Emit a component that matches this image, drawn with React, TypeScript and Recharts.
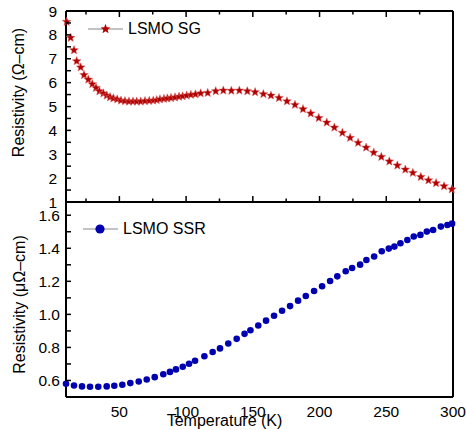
import React from "react";
import { ScatterChart, Scatter, XAxis, YAxis, Legend } from "recharts";

const FONT = "'Liberation Sans', Arial, sans-serif";
const SG_COLOR = "#B00000";
const SSR_COLOR = "#0000B0";
const AXIS = { stroke: "#000", strokeWidth: 2 };

// LSMO SG (top panel), resistivity in Ohm-cm
const sgTemp = [
  10.5, 13.5, 16, 18, 21, 23.5, 26.7, 29.7, 32.5, 35, 38, 40.5, 43, 45.5, 48.4, 51.2, 54.2, 57.2,
  60.2, 63, 66, 69.2, 72.4, 75.4, 78, 80.4, 83.4, 86, 88.7, 91.7, 94.7, 97.4, 100.4, 103.6, 107,
  110.9, 116.2, 122.2, 127.9, 133.9, 139.9, 145.9, 151.7, 157.9, 163.6, 169.6, 175.6, 181.6, 187.6,
  193.4, 199.4, 205.4, 211.1, 217.1, 222.9, 228.9, 234.9, 240.6, 246.3, 252.3, 258.3, 264.3, 269.9,
  275.9, 281.6, 287.3, 293.3, 299.1,
];
const sgRes = [
  8.55, 7.88, 7.36, 6.9, 6.64, 6.32, 6.13, 5.94, 5.78, 5.64, 5.55, 5.46, 5.39, 5.34, 5.3, 5.25, 5.23, 5.21,
  5.21, 5.21, 5.21, 5.23, 5.24, 5.25, 5.27, 5.3, 5.32, 5.34, 5.36, 5.38, 5.41, 5.43, 5.46, 5.49, 5.51,
  5.55, 5.57, 5.64, 5.67, 5.66, 5.67, 5.64, 5.6, 5.52, 5.46, 5.36, 5.22, 5.07, 4.89,
  4.71, 4.52, 4.33, 4.12, 3.9, 3.69, 3.48, 3.28, 3.07, 2.89, 2.7, 2.53, 2.36, 2.22,
  2.05, 1.91, 1.79, 1.66, 1.53,
];

// LSMO SSR (bottom panel), resistivity in micro-Ohm-cm
const ssrTemp = [
  10, 16, 22, 28, 34.2, 40.5, 46.2, 52.2, 58.2, 64.5, 70.5, 76.5, 82.9, 87.9, 92.4, 97.5, 102.2, 106.7,
  113.7, 119.9, 125.4, 131.6, 137.9, 143.8, 148.2, 154.1, 159.9, 165.9, 171.9, 177.9, 183.9, 189.7,
  195.9, 201.9, 207.9, 213.3, 219.6, 224.4, 230.4, 235.1, 240.9, 246.6, 251.9, 256.1, 260.6, 265.8,
  270.6, 275.6, 280.4, 285.1, 290.9, 295.8, 299.3,
];
const ssrRes = [
  0.58, 0.57, 0.564, 0.562, 0.562, 0.564, 0.568, 0.574, 0.584, 0.594, 0.606, 0.62, 0.638, 0.652, 0.667,
  0.683, 0.701, 0.719, 0.747, 0.772, 0.794, 0.824, 0.852, 0.882, 0.904, 0.933, 0.962, 0.992, 1.022,
  1.05, 1.083, 1.111, 1.141, 1.17, 1.202, 1.23, 1.261, 1.281, 1.301, 1.329, 1.35, 1.382, 1.398, 1.41,
  1.43, 1.45, 1.471, 1.481, 1.501, 1.511, 1.531, 1.541, 1.549,
];

const tempMajor = [50, 100, 150, 200, 250, 300];
const tempAll = [25, 50, 75, 100, 125, 150, 175, 200, 225, 250, 275, 300];
const sgMajor = [1, 2, 3, 4, 5, 6, 7, 8, 9];
const sgAll = [1, 1.5, 2, 2.5, 3, 3.5, 4, 4.5, 5, 5.5, 6, 6.5, 7, 7.5, 8, 8.5, 9];
const ssrMajor = [0.6, 0.8, 1.0, 1.2, 1.4, 1.6];
const ssrAll = [0.6, 0.7, 0.8, 0.9, 1.0, 1.1, 1.2, 1.3, 1.4, 1.5, 1.6];

const sgData = sgTemp.map((t, i) => ({ t, r: sgRes[i] }));
const ssrData = ssrTemp.map((t, i) => ({ t, r: ssrRes[i] }));

const T_DOMAIN: [number, number] = [10, 300];
const SG_DOMAIN: [number, number] = [1, 9];
const SSR_DOMAIN: [number, number] = [0.5, 1.68];

const starPoints = (cx: number, cy: number, ro: number, ri: number) => {
  const pts: string[] = [];
  for (let k = 0; k < 10; k++) {
    const a = -Math.PI / 2 + (k * Math.PI) / 5;
    const r = k % 2 === 0 ? ro : ri;
    pts.push(`${cx + r * Math.cos(a)},${cy + r * Math.sin(a)}`);
  }
  return pts.join(" ");
};

const Star = (p: any) => (
  <polygon points={starPoints(p.cx, p.cy, 4.6, 2)} fill={SG_COLOR} stroke="#E07070" strokeWidth={0.5} />
);
const Dot = (p: any) => <circle cx={p.cx} cy={p.cy} r={3.3} fill={SSR_COLOR} />;
const NoMark = () => <g />;

const isIn = (list: number[], v: number) => list.some((m) => Math.abs(m - v) < 1e-6);

// left axis: label on majors, inward tick mark on every tick
const leftTick = (majors: number[], margin: number, fmt: (v: number) => string) => (props: any) => {
  const { x, y, payload } = props;
  const v = payload.value;
  const major = isIn(majors, v);
  return (
    <g>
      <line x1={x + margin} x2={x + margin + 5} y1={y} y2={y} stroke="#000" strokeWidth={1.5} />
      {major && (
        <text x={x} y={y} dy="0.355em" textAnchor="end" fontSize={15.5} fontFamily={FONT} fill="#000">
          {fmt(v)}
        </text>
      )}
    </g>
  );
};

// horizontal frame edge: inward tick marks only (dir 1 = down, -1 = up)
const edgeTick = (dir: number) => (props: any) => {
  const { x, y, payload } = props;
  const len = isIn(tempMajor, payload.value) ? 6 : 3.5;
  return <line x1={x} x2={x} y1={y} y2={y + dir * len} stroke="#000" strokeWidth={1.5} />;
};

const yTitle = (text: string, dx: number, dy: number) => ({
  content: (props: any) => {
    const vb = props.viewBox || { x: 0, y: 0, width: 0, height: 0 };
    const x = vb.x + dx;
    const y = vb.y + vb.height / 2 + dy;
    return (
      <text
        x={x}
        y={y}
        transform={`rotate(-90 ${x} ${y})`}
        textAnchor="middle"
        fontSize={16}
        fontFamily={FONT}
        fill="#000"
      >
        {text}
      </text>
    );
  },
});

const legendContent = (marker: React.ReactNode) => (props: any) => {
  const item = props.payload && props.payload[0];
  return (
    <div style={{ display: "flex", alignItems: "center", fontFamily: FONT, fontSize: 16, color: "#000", whiteSpace: "nowrap" }}>
      <svg width={35} height={14}>
        <line x1={0} y1={7} x2={35} y2={7} stroke="#888" strokeWidth={1.2} />
        {marker}
      </svg>
      <span style={{ marginLeft: 5 }}>{item ? item.value : ""}</span>
    </div>
  );
};

const tickStyle = { fill: "#000", fontSize: 15.5, fontFamily: FONT };

export default function App() {
  return (
    <div style={{ position: "absolute", left: 0, top: 0, width: 466, height: 430, background: "#fff" }}>
      <div style={{ position: "absolute", left: 0, top: 0 }}>
        <ScatterChart width={466} height={210} margin={{ top: 6, right: 13, bottom: 3, left: 0 }}>
          <XAxis
            xAxisId="xb"
            type="number"
            dataKey="t"
            domain={T_DOMAIN}
            ticks={tempAll}
            interval={0}
            height={5}
            tickSize={0}
            tickMargin={0}
            tick={edgeTick(-1)}
            axisLine={AXIS}
          />
          <XAxis
            xAxisId="xt"
            orientation="top"
            type="number"
            dataKey="t"
            domain={T_DOMAIN}
            ticks={tempAll}
            interval={0}
            height={5}
            tickSize={0}
            tickMargin={0}
            tick={edgeTick(1)}
            axisLine={AXIS}
          />
          <YAxis
            yAxisId="y"
            type="number"
            dataKey="r"
            domain={SG_DOMAIN}
            ticks={sgAll}
            interval={0}
            width={66}
            tickSize={0}
            tickMargin={9}
            axisLine={AXIS}
            tick={leftTick(sgMajor, 9, (v) => String(v))}
            label={yTitle("Resistivity (\u03A9\u2013cm)", 24, -14)}
          />
          <YAxis
            yAxisId="yr"
            type="number"
            domain={SG_DOMAIN}
            orientation="right"
            mirror
            tick={false}
            tickLine={false}
            axisLine={AXIS}
            width={1}
          />
          <Legend
            layout="vertical"
            align="center"
            verticalAlign="middle"
            wrapperStyle={{ left: 88, top: 20, width: "auto", height: "auto" }}
            content={legendContent(<polygon points={starPoints(17.5, 7, 5.2, 2.2)} fill={SG_COLOR} />)}
          />
          <Scatter
            xAxisId="xb"
            yAxisId="y"
            name="LSMO SG"
            data={sgData}
            shape={Star}
            isAnimationActive={false}
          />
          <Scatter
            xAxisId="xt"
            yAxisId="y"
            name="frame"
            data={sgData}
            shape={NoMark}
            legendType="none"
            isAnimationActive={false}
          />
        </ScatterChart>
      </div>
      <div style={{ position: "absolute", left: 0, top: 196 }}>
        <ScatterChart width={466} height={234} margin={{ top: 6, right: 13, bottom: 0, left: 0 }}>
          <XAxis
            xAxisId="x"
            type="number"
            dataKey="t"
            domain={T_DOMAIN}
            ticks={tempMajor}
            interval={0}
            height={33}
            tickSize={0}
            tickMargin={9}
            axisLine={AXIS}
            tick={tickStyle}
            label={{ value: "Temperature (K)", position: "insideBottom", offset: 4, dx: -35, fontSize: 16, fontFamily: FONT, fill: "#000" }}
          />
          <YAxis
            yAxisId="y"
            type="number"
            dataKey="r"
            domain={SSR_DOMAIN}
            ticks={ssrAll}
            interval={0}
            width={66}
            tickSize={0}
            tickMargin={6}
            axisLine={AXIS}
            tick={leftTick(ssrMajor, 6, (v) => v.toFixed(1))}
            label={yTitle("Resistivity (\u03BC\u03A9\u2013cm)", 25, 5)}
          />
          <YAxis
            yAxisId="yr"
            type="number"
            domain={SSR_DOMAIN}
            orientation="right"
            mirror
            tick={false}
            tickLine={false}
            axisLine={AXIS}
            width={1}
          />
          <Legend
            layout="vertical"
            align="center"
            verticalAlign="middle"
            wrapperStyle={{ left: 83, top: 24, width: "auto", height: "auto" }}
            content={legendContent(<circle cx={17} cy={7} r={4.6} fill={SSR_COLOR} />)}
          />
          <Scatter
            xAxisId="x"
            yAxisId="y"
            name="LSMO SSR"
            data={ssrData}
            shape={Dot}
            isAnimationActive={false}
          />
        </ScatterChart>
      </div>
    </div>
  );
}
